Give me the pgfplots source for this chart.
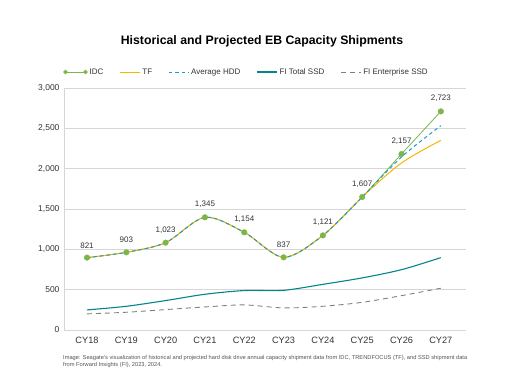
\documentclass[border=0pt]{standalone}
\usepackage{fontspec}
\setmainfont{Liberation Sans}
\usepackage{pgfplots}
\usepackage{pgfplotstable}
\pgfplotsset{compat=1.18}
\definecolor{idc}{HTML}{7AB648}
\definecolor{tf}{HTML}{F5B700}
\definecolor{hdd}{HTML}{1A9AD6}
\definecolor{tssd}{HTML}{00868B}
\definecolor{essd}{HTML}{808080}
\definecolor{gridc}{HTML}{D6D6D6}
\definecolor{labc}{HTML}{333333}
\definecolor{capc}{HTML}{555555}

\pgfplotstableread{
x y lab
0 897 821
1 963 903
2 1083 1,023
3 1397 1,345
4 1211 1,154
5 901 837
6 1173 1,121
7 1649 1,607
8 2182 2,157
9 2710 2,723
}\idcdata

\pgfplotstableread{
x y
0 897
1 963
2 1083
3 1397
4 1211
5 901
6 1173
7 1649
8 2071
9 2351
}\tfdata

\pgfplotstableread{
x y
0 897
1 963
2 1083
3 1397
4 1211
5 901
6 1173
7 1649
8 2145
9 2533
}\hdddata

\pgfplotstableread{
x y
0 249
1 294
2 365
3 443
4 489
5 492
6 566
7 646
8 748
9 897
}\tssddata

\pgfplotstableread{
x y
0 200
1 220
2 253
3 286
4 311
5 274
6 294
7 343
8 426
9 518
}\essddata

\begin{document}
\begin{tikzpicture}
\path[use as bounding box] (0pt,0pt) rectangle (512pt,384pt);
\begin{axis}[
  at={(64pt,54pt)}, anchor=south west,
  scale only axis, width=402pt, height=242pt,
  xmin=-0.585, xmax=9.64, ymin=0, ymax=3000,
  xtick={0,...,9},
  xticklabels={CY18,CY19,CY20,CY21,CY22,CY23,CY24,CY25,CY26,CY27},
  ytick={0,500,...,3000},
  ymajorgrids, grid style={draw=gridc, line width=0.6pt},
  axis lines=left,
  axis line style={-, draw=gridc, line width=0.6pt},
  major tick length=0pt, tick style={draw=none},
  /pgf/number format/.cd, 1000 sep={,}, assume math mode=true, /pgfplots/.cd,
  yticklabel style={font=\fontsize{8.5}{10}\selectfont, text=labc, xshift=-1pt},
  xticklabel style={font=\fontsize{9.2}{11}\selectfont, text=labc, yshift=-4pt},
  legend style={at={(0.454,1.066)}, anchor=center, draw=none, fill=none,
    font=\fontsize{8}{9.5}\selectfont, text=labc,
    /tikz/every even column/.append style={column sep=14pt}},
  legend columns=5,
  legend cell align=left,
  legend image code/.code={\draw[#1] (0pt,0pt) -- (20pt,0pt);},
]
\addplot[idc, line width=0.8pt, smooth,
  legend image code/.code={\draw[idc, line width=0.8pt] (0pt,0pt) -- (20pt,0pt);
     \fill[idc] (0pt,0pt) circle (1.8pt) (20pt,0pt) circle (1.8pt);}]
  table[x=x,y=y] {\idcdata};
\addlegendentry{IDC}
\addplot[tf, line width=1pt, smooth] table[x=x,y=y] {\tfdata};
\addlegendentry{TF}
\addplot[hdd, line width=1pt, smooth, dash pattern=on 3.5pt off 3pt] table[x=x,y=y] {\hdddata};
\addlegendentry{Average HDD}
\addplot[tssd, line width=1.1pt, smooth] table[x=x,y=y] {\tssddata};
\addlegendentry{FI Total SSD}
\addplot[essd, line width=0.9pt, smooth, dash pattern=on 5pt off 4pt] table[x=x,y=y] {\essddata};
\addlegendentry{FI Enterprise SSD}
\addplot[only marks, mark=*, mark size=2.8pt, color=idc, forget plot,
  point meta=explicit symbolic, nodes near coords,
  nodes near coords style={font=\fontsize{8}{9.5}\selectfont, text=labc, anchor=south, yshift=6pt}]
  table[x=x,y=y,meta=lab] {\idcdata};
\end{axis}
\node[font=\bfseries\fontsize{12.3}{14}\selectfont, text=black] at (262pt,343pt) {Historical and Projected EB Capacity Shipments};
\node[anchor=north west, align=left, inner sep=0pt, font=\fontsize{5.7}{7.2}\selectfont, text=capc] at (63pt,29pt)
  {Image: Seagate's visualization of historical and projected hard disk drive annual capacity shipment data from IDC, TRENDFOCUS (TF), and SSD shipment data\\from Forward Insights (FI), 2023, 2024.};
\end{tikzpicture}
\end{document}
